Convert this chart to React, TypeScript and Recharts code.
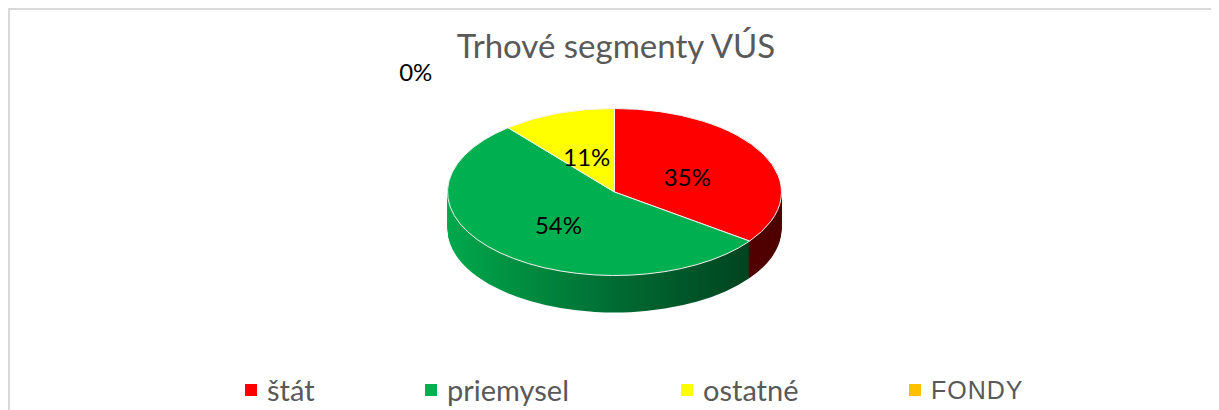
import { PieChart, Pie, Cell, Legend } from "recharts";

const segments = ["štát", "priemysel", "ostatné", "FONDY"];
const shares = [35, 54, 11, 0];
const topColors = ["#ff0000", "#00b050", "#ffff00", "#ffc000"];
// side wall shades: left, middle, right
const wallColors = [
  ["#c00000", "#6a0000", "#4c0000"],
  ["#00a84b", "#006c33", "#003a1a"],
  ["#b0b000", "#707000", "#4a4a00"],
  ["#c09000", "#806000", "#504000"],
];

const data = segments.map((name, i) => ({ name, value: shares[i] }));

const W = 1209;
const H = 400;
const CX = 604.5;
const CY = 182;
const R = 167;
const TILT = 0.5;
const DEPTH = 37;
const RADIAN = Math.PI / 180;

// one pie per pixel of wall depth, drawn back to front
const layers = Array.from({ length: DEPTH }, (_, i) => DEPTH - i);

// legend slot widths, like Excel spreads them
const legendSlots = [180, 256, 228, 150];

const css = `
html, body { overflow: hidden; }
.pie-3d .recharts-sector {
  transform-box: view-box;
  transform-origin: ${CX}px ${CY}px;
  transform: scaleY(${TILT});
}
.pie-top .recharts-sector { vector-effect: non-scaling-stroke; }
`;

const renderLabel = (props: any) => {
  const { cx, cy, midAngle, outerRadius, percent, value } = props;
  let x: number;
  let y: number;
  if (value === 0) {
    x = cx - outerRadius * 1.19;
    y = cy - outerRadius * 0.72;
  } else {
    const r = outerRadius * 0.49;
    x = cx + r * Math.cos(-midAngle * RADIAN);
    y = cy + r * Math.sin(-midAngle * RADIAN) * TILT + 3;
  }
  return (
    <text
      x={x}
      y={y}
      fill="#000"
      textAnchor="middle"
      dominantBaseline="central"
      fontFamily="Lato"
      fontSize={24}
    >
      {`${Math.round(percent * 100)}%`}
    </text>
  );
};

const renderLegend = ({ payload }: any) => {
  const seen = new Set<string>();
  const items = (payload || [])
    .filter((e: any) => e.type !== "none" && segments.includes(e.value))
    .filter((e: any) => (seen.has(e.value) ? false : (seen.add(e.value), true)))
    .sort(
      (a: any, b: any) => segments.indexOf(a.value) - segments.indexOf(b.value)
    );
  return (
    <div style={{ display: "flex", alignItems: "center" }}>
      {items.map((entry: any, i: number) => (
        <div
          key={entry.value}
          style={{
            width: legendSlots[i],
            display: "flex",
            alignItems: "center",
            flexShrink: 0,
          }}
        >
          <span
            style={{
              width: 12,
              height: 12,
              background: topColors[segments.indexOf(entry.value)],
              marginRight: 10,
              flexShrink: 0,
            }}
          />
          <span
            style={{
              color: "#595959",
              fontFamily: entry.value === "FONDY" ? "Liberation Sans" : "Lato",
              fontSize: entry.value === "FONDY" ? 25 : 29,
              letterSpacing: entry.value === "FONDY" ? 1 : 0,
              lineHeight: "30px",
            }}
          >
            {entry.value}
          </span>
        </div>
      ))}
    </div>
  );
};

const App = () => {
  return (
    <div
      style={{
        position: "relative",
        width: 1211,
        height: 402,
        boxSizing: "border-box",
        borderTop: "2px solid #d9d9d9",
        borderLeft: "2px solid #d9d9d9",
        overflow: "hidden",
        background: "#fff",
      }}
    >
      <style>{css}</style>
      <svg width={0} height={0} style={{ position: "absolute" }}>
        <defs>
          {wallColors.map((c, i) => (
            <linearGradient
              key={i}
              id={`wall-${i}`}
              gradientUnits="userSpaceOnUse"
              x1={CX - R}
              y1={0}
              x2={CX + R}
              y2={0}
            >
              <stop offset="0%" stopColor={c[0]} />
              <stop offset="50%" stopColor={c[1]} />
              <stop offset="100%" stopColor={c[2]} />
            </linearGradient>
          ))}
        </defs>
      </svg>
      <div
        style={{
          position: "absolute",
          left: 0,
          top: 19,
          width: W,
          paddingLeft: 3,
          boxSizing: "border-box",
          textAlign: "center",
          fontFamily: "Lato",
          fontSize: 33,
          lineHeight: 1,
          color: "#595959",
        }}
      >
        Trhové segmenty VÚS
      </div>
      <PieChart width={W} height={H} margin={{ top: 0, right: 0, bottom: 0, left: 0 }}>
        {layers.map((k) => (
          <Pie
            key={k}
            data={data}
            dataKey="value"
            nameKey="name"
            cx={CX}
            cy={CY + k / TILT}
            outerRadius={R}
            startAngle={90}
            endAngle={-270}
            stroke="none"
            legendType="none"
            className="pie-3d"
            isAnimationActive={false}
          >
            {data.map((d, i) => (
              <Cell key={d.name} fill={`url(#wall-${i})`} />
            ))}
          </Pie>
        ))}
        <Pie
          data={data}
          dataKey="value"
          nameKey="name"
          cx={CX}
          cy={CY}
          outerRadius={R}
          startAngle={90}
          endAngle={-270}
          stroke="#f4f4f4"
          strokeWidth={1}
          className="pie-3d pie-top"
          label={renderLabel}
          labelLine={false}
          isAnimationActive={false}
        >
          {data.map((d, i) => (
            <Cell key={d.name} fill={topColors[i]} />
          ))}
        </Pie>
        <Legend
          verticalAlign="bottom"
          content={renderLegend}
          wrapperStyle={{ top: 365, left: 235, width: 900, height: 30 }}
        />
      </PieChart>
    </div>
  );
};

export default App;
